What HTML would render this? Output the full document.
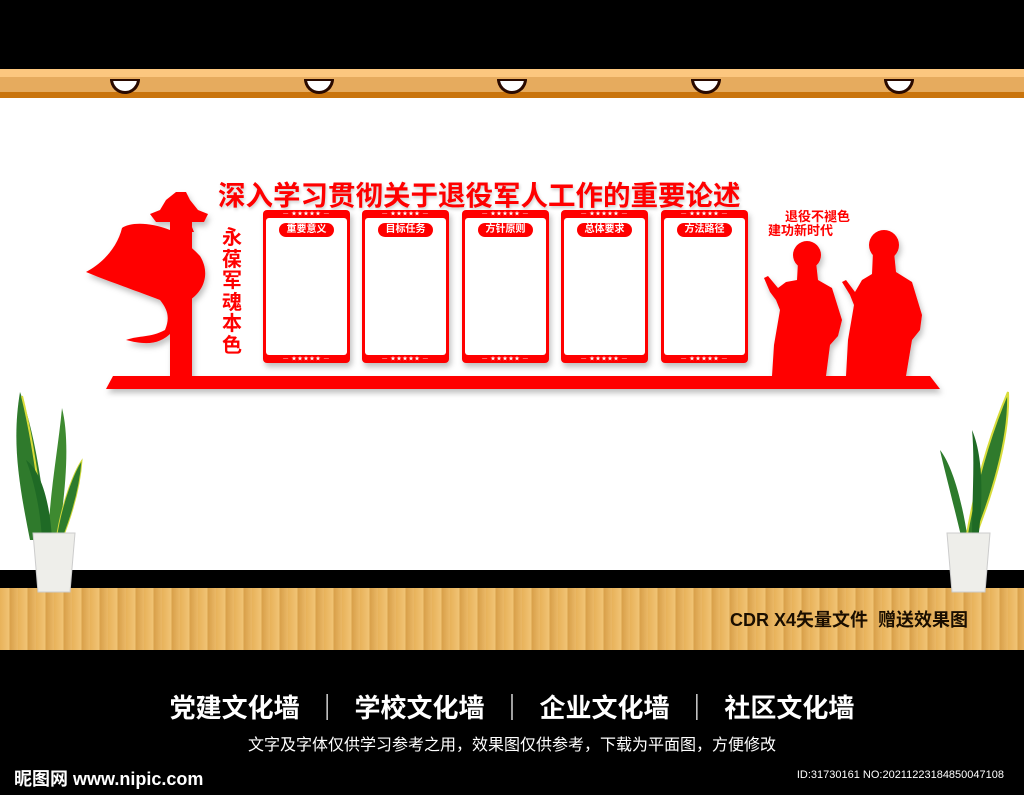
<!DOCTYPE html>
<html><head><meta charset="utf-8"><style>
*{margin:0;padding:0;box-sizing:border-box}
body{width:1024px;height:795px;overflow:hidden;position:relative;background:#fff;font-family:"Liberation Sans","Noto Sans CJK SC",sans-serif}
.abs{position:absolute}
.panel{position:absolute;top:210px;width:87px;height:153px;background:#f00;border-radius:4px;box-shadow:2px 4px 6px rgba(0,0,0,.25)}
.panel .in{position:absolute;left:3px;right:3px;top:8px;bottom:8px;background:#fff;border-radius:3px}
.panel .pill{position:absolute;left:16px;width:55px;top:13px;height:14px;background:#f00;border-radius:7px;color:#fff;font-size:10px;font-weight:bold;text-align:center;line-height:14px}
.panel .dots{position:absolute;left:0;right:0;color:#fff;font-size:5px;text-align:center;line-height:8px;letter-spacing:1px}
.light{position:absolute;top:79px;width:30px;height:15px;background:#fff;border:3px solid #2a0a00;border-top-width:2px;border-radius:0 0 15px 15px}
</style></head><body>
<div class="abs" style="left:0;top:0;width:1024px;height:69px;background:#000"></div>
<div class="abs" style="left:0;top:69px;width:1024px;height:8px;background:#fcc77f"></div>
<div class="abs" style="left:0;top:77px;width:1024px;height:15px;background:#e6ab5e"></div>
<div class="abs" style="left:0;top:92px;width:1024px;height:6px;background:#c9740d"></div>
<div class="light" style="left:110px"></div>
<div class="light" style="left:304px"></div>
<div class="light" style="left:497px"></div>
<div class="light" style="left:691px"></div>
<div class="light" style="left:884px"></div>

<div class="abs" style="left:0;top:570px;width:1024px;height:18px;background:#000"></div>
<div class="abs" style="left:0;top:588px;width:1024px;height:62px;background:repeating-linear-gradient(90deg,#e8b25a 0,#f0c374 9px,#d9a04a 10px,#eab866 18px)"></div>
<div class="abs" style="left:0;top:650px;width:1024px;height:145px;background:#000"></div>

<div class="abs" style="left:218px;top:173px;font-size:27.5px;font-weight:bold;color:#f00;white-space:nowrap;text-shadow:1px 2px 3px rgba(0,0,0,.2)">深入学习贯彻关于退役军人工作的重要论述</div>
<div class="abs" style="left:222px;top:228px;width:22px;font-size:20px;line-height:21.5px;font-weight:bold;color:#f00">永葆军魂本色</div>
<div class="abs" style="left:768px;top:210px;font-size:13px;font-weight:bold;color:#f00;line-height:14px;white-space:nowrap"><div style="padding-left:17px">退役不褪色</div><div>建功新时代</div></div>

<div class="panel" style="left:263px"><div class="dots" style="top:0">— ★★★★★ —</div><div class="in"></div><div class="pill">重要意义</div><div class="dots" style="bottom:0">— ★★★★★ —</div></div>
<div class="panel" style="left:362px"><div class="dots" style="top:0">— ★★★★★ —</div><div class="in"></div><div class="pill">目标任务</div><div class="dots" style="bottom:0">— ★★★★★ —</div></div>
<div class="panel" style="left:462px"><div class="dots" style="top:0">— ★★★★★ —</div><div class="in"></div><div class="pill">方针原则</div><div class="dots" style="bottom:0">— ★★★★★ —</div></div>
<div class="panel" style="left:561px"><div class="dots" style="top:0">— ★★★★★ —</div><div class="in"></div><div class="pill">总体要求</div><div class="dots" style="bottom:0">— ★★★★★ —</div></div>
<div class="panel" style="left:661px"><div class="dots" style="top:0">— ★★★★★ —</div><div class="in"></div><div class="pill">方法路径</div><div class="dots" style="bottom:0">— ★★★★★ —</div></div>

<svg class="abs" style="left:0;top:0" width="1024" height="795">
<defs><filter id="sh"><feDropShadow dx="2" dy="4" stdDeviation="3" flood-opacity=".25"/></filter></defs>
<g fill="#f00" filter="url(#sh)">
<polygon points="113,376 930,376 940,389 106,389"/>
<rect x="170" y="215" width="22" height="162"/>
<path d="M176,192 L186,192 L190,200 L198,210 L208,214 L204,222 L190,222 L194,232 L174,232 L170,222 L156,222 L150,214 L160,210 L166,200 Z"/>
<path d="M170,230 C150,222 130,222 122,228 C118,245 105,262 86,272 C110,282 140,292 160,300 C168,310 170,318 165,330 C150,338 140,335 126,340 C145,345 160,345 172,332 C170,318 175,306 190,300 C205,290 210,272 200,256 C190,245 178,238 170,230 Z"/>
<circle cx="807" cy="255" r="14"/>
<path d="M798,262 L816,262 L818,280 L832,288 L842,320 L838,336 L830,345 L826,376 L772,376 L774,345 L780,310 L776,300 L770,292 L764,278 L768,276 L778,288 L786,282 L797,280 Z"/>
<circle cx="884" cy="245" r="15"/>
<path d="M873,252 L894,252 L896,272 L912,282 L922,315 L920,330 L912,340 L906,376 L846,376 L848,340 L854,305 L850,295 L842,282 L846,280 L855,292 L862,280 L872,274 Z"/>
</g>
<g>
<path d="M30,540 C18,480 12,440 20,392 C30,420 40,460 48,540 Z" fill="#2f7a2c"/>
<path d="M22,396 C28,420 36,460 44,530" stroke="#d8dc3a" stroke-width="2" fill="none"/>
<path d="M48,540 C50,490 58,450 62,408 C70,440 66,490 58,540 Z" fill="#3e8a30"/>
<path d="M42,540 C40,500 30,470 26,460 C40,470 50,500 52,540 Z" fill="#1f6a25"/>
<path d="M56,540 C62,500 75,470 82,460 C80,490 70,520 62,540 Z" fill="#2d7b2c" stroke="#d0d83a" stroke-width="1"/>
<path d="M962,540 C950,490 942,460 940,450 C952,465 962,500 968,540 Z" fill="#2d7b2c"/>
<path d="M966,540 C976,480 992,430 1008,392 C1010,440 990,500 974,540 Z" fill="#2f7a2c" stroke="#d8dc3a" stroke-width="2"/>
<path d="M972,540 C972,500 975,460 972,430 C985,460 982,510 978,540 Z" fill="#1f6a25"/>
<path d="M33,533 L75,533 L70,592 L38,592 Z" fill="#eeeeea" stroke="#ccc"/>
<path d="M947,533 L990,533 L985,592 L952,592 Z" fill="#eeeeea" stroke="#ccc"/>
</g>
</svg>

<div class="abs" style="left:730px;top:606px;font-size:18px;font-weight:bold;color:#1a0e00;white-space:nowrap">CDR X4矢量文件&nbsp; 赠送效果图</div>
<div class="abs" style="left:0;width:1024px;top:688px;text-align:center;font-size:26px;font-weight:bold;color:#fff;white-space:nowrap">党建文化墙 &nbsp;｜&nbsp; 学校文化墙 &nbsp;｜&nbsp; 企业文化墙 &nbsp;｜&nbsp; 社区文化墙</div>
<div class="abs" style="left:0;width:1024px;top:731px;text-align:center;font-size:16px;color:#fff;white-space:nowrap">文字及字体仅供学习参考之用，效果图仅供参考，下载为平面图，方便修改</div>
<div class="abs" style="left:14px;top:765px;font-size:18px;font-weight:bold;color:#fff;white-space:nowrap">昵图网 www.nipic.com</div>
<div class="abs" style="right:20px;top:769px;font-size:11px;color:#fff;white-space:nowrap">ID:31730161 NO:20211223184850047108</div>
</body></html>
